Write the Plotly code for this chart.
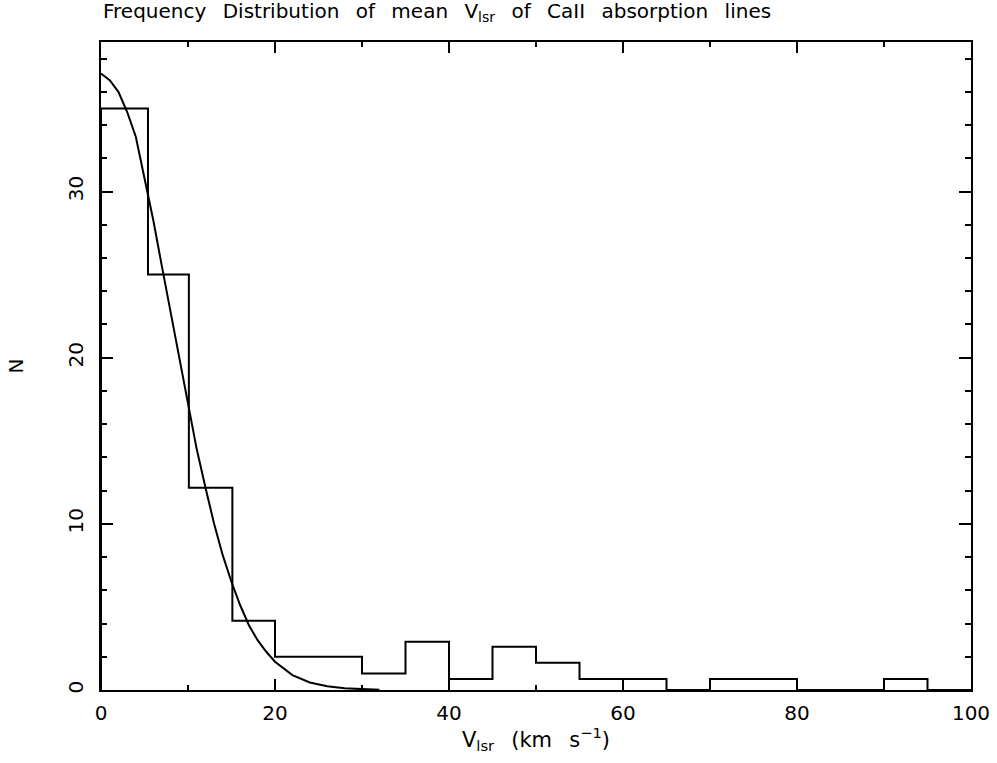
import plotly.graph_objects as go

# Histogram (bin edges and heights)
bin_edges = [0, 5.4, 10.1, 15.1, 20, 25, 30, 35, 40, 45, 50, 55, 60, 65, 70, 75, 80, 85, 90, 95, 100]
bin_counts = [35, 25, 12.17, 4.17, 2, 2, 1, 2.9, 0.66, 2.6, 1.64, 0.66, 0.66, 0, 0.66, 0.66, 0, 0, 0.66, 0]

# Fitted curve points
curve_x = [0, 1, 2, 3, 4, 5, 6, 7, 8, 9, 10, 11, 12, 13, 14, 15, 16, 17, 18, 19, 20,
           22, 24, 26, 28, 30, 32]
curve_y = [37.1, 36.7, 36.0, 34.8, 33.3, 30.8, 28.3, 25.5, 22.7, 19.9, 17.1, 14.5, 12.2,
           10.0, 8.1, 6.5, 5.1, 3.9, 3.0, 2.3, 1.7, 0.9, 0.45, 0.22, 0.1, 0.04, 0.01]

x_ticks = [0, 20, 40, 60, 80, 100]
y_ticks = [0, 10, 20, 30]

step_x = [bin_edges[0]] + bin_edges
step_y = [0] + bin_counts + [bin_counts[-1]]

FONT = "DejaVu Sans"
GAP = "\u2002 "  # wide word gap like the reference font

fig = go.Figure()
fig.add_trace(go.Scatter(x=step_x, y=step_y, mode="lines", line=dict(shape="hv", color="black", width=2),
                         hoverinfo="skip", showlegend=False))
fig.add_trace(go.Scatter(x=curve_x, y=curve_y, mode="lines", line=dict(color="black", width=2),
                         hoverinfo="skip", showlegend=False))

axis_common = dict(showgrid=False, zeroline=False, showline=True, linecolor="black", linewidth=2,
                   ticks="inside", tickcolor="black", tickwidth=2, mirror="allticks", automargin=False,
                   ticklabeloverflow="allow",
                   tickfont=dict(family=FONT, size=20, color="black"))

fig.update_xaxes(range=[0, 100], tickvals=x_ticks, ticktext=[str(v) for v in x_ticks], ticklen=11,
                 minor=dict(ticks="inside", dtick=10, ticklen=5, tickcolor="black", tickwidth=2),
                 ticklabelstandoff=4,
                 title=dict(text="V<sub>lsr</sub>" + GAP + "(km" + GAP + "s<sup>\u22121</sup>)",
                            font=dict(family=FONT, size=21, color="black"), standoff=8),
                 **axis_common)
fig.update_yaxes(range=[0, 39], tickvals=y_ticks, ticktext=[str(v) for v in y_ticks], ticklen=12,
                 tickangle=-90,
                 minor=dict(ticks="inside", dtick=2, ticklen=6, tickcolor="black", tickwidth=2),
                 ticklabelstandoff=8,
                 title=dict(text="N", font=dict(family=FONT, size=20, color="black"), standoff=35),
                 **axis_common)

title_text = GAP.join(["Frequency", "Distribution", "of", "mean", "V<sub>lsr</sub>",
                       "of", "CaII", "absorption", "lines"])
fig.add_annotation(xref="paper", yref="paper", x=0, y=1, xanchor="left", yanchor="bottom", yshift=15,
                   text=title_text, showarrow=False, font=dict(family=FONT, size=20, color="black"))

fig.update_layout(width=997, height=763, margin=dict(l=101, r=26, t=42, b=73),
                  plot_bgcolor="white", paper_bgcolor="white")

fig.write_html("out.html", config={"displayModeBar": False},
               post_script="document.body.style.margin='0';")
